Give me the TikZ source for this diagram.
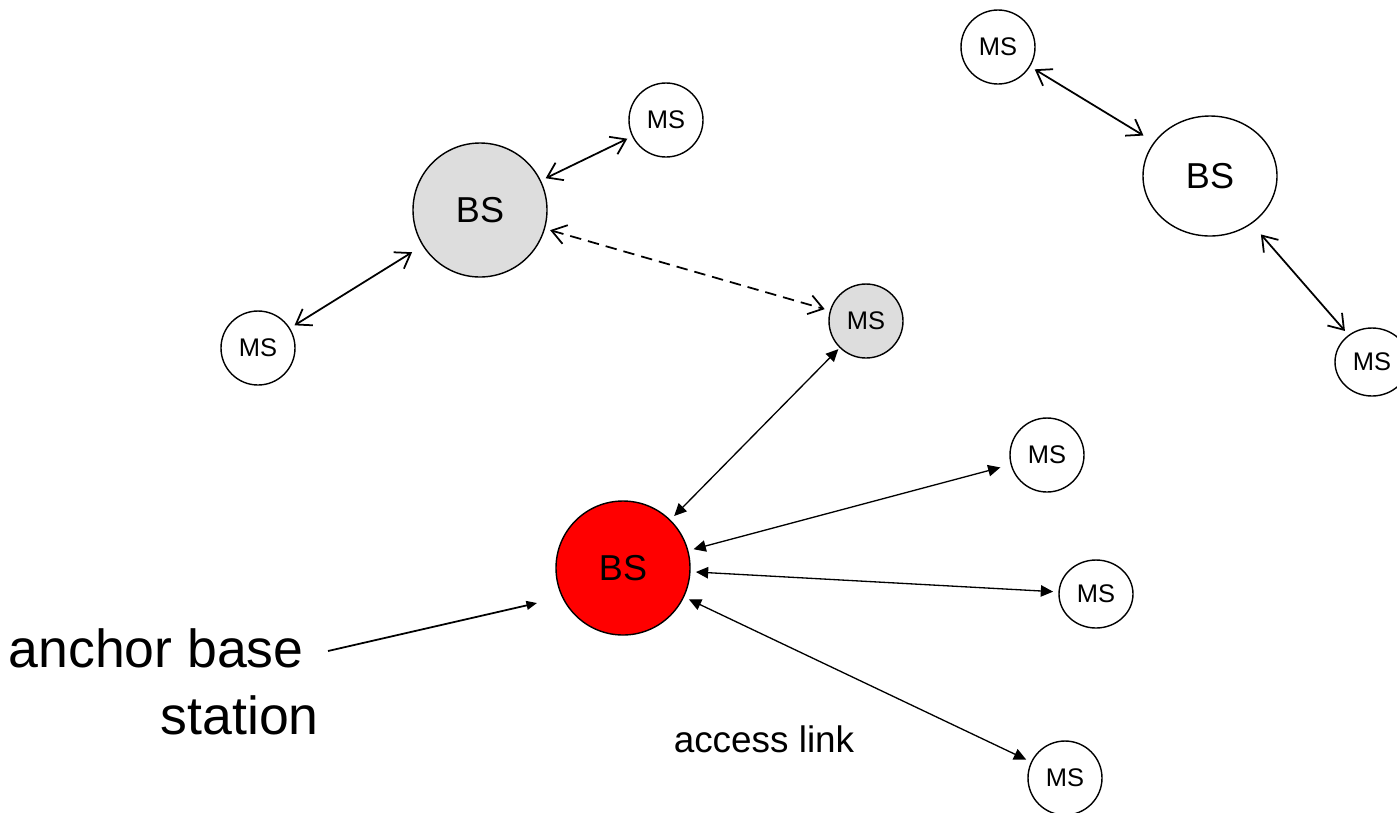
\documentclass[tikz,border=0pt]{standalone}
\usepackage{fontspec}
\setmainfont{Liberation Sans}
\usepackage{tikz}
\usetikzlibrary{positioning}
\usetikzlibrary{shapes,arrows.meta}
\definecolor{stationgray}{RGB}{221,221,221}
\tikzset{
	bs/.style={
		circle,
		draw,
		line width=.8pt,
		minimum size=2.68cm,
		inner sep=0pt,
		font=\fontsize{20.5}{24}\selectfont
	},
	ms/.style={
		circle,
		draw,
		line width=.8pt,
		minimum size=1.48cm,
		inner sep=0pt,
		font=\fontsize{14.5}{17}\selectfont
	},
	oldlink/.style={
		{Straight Barb[length=8pt,width=11pt]}-{Straight Barb[length=8pt,width=11pt]},
		line width=1pt,
		shorten <=3pt,
		shorten >=3pt
	},
	accesslink/.style={
		{Triangle[length=7pt,width=6.5pt]}-{Triangle[length=7pt,width=6.5pt]},
		line width=.75pt,
		shorten <=3pt,
		shorten >=3pt
	}
}

\begin{document}
\begin{tikzpicture}
	\useasboundingbox (0,0) rectangle (27.94,-16.24);
	\node[bs, fill=stationgray] (BSold) at (9.6,-4.2) {BS};
	\node[ms] (MSoldA) at (13.32,-2.4) {MS};
	\node[ms] (MSoldB) at (5.16,-6.96) {MS};
	\node[ms, fill=stationgray] (MSho) at (17.32,-6.42) {MS};
	\node[bs, ellipse, minimum width=2.68cm, minimum height=2.4cm] (BSfar) at (24.2,-3.52) {BS};
	\node[ms] (MSfarA) at (19.96,-0.94) {MS};
	\node[ms, ellipse, minimum width=1.48cm, minimum height=1.36cm] (MSfarB) at (27.44,-7.24) {MS};
	\node[bs, fill=red] (BSanchor) at (12.46,-11.36) {BS};
	\node[ms] (MSa) at (20.94,-9.1) {MS};
	\node[ms, ellipse, minimum width=1.48cm, minimum height=1.36cm] (MSb) at (21.92,-11.88) {MS};
	\node[ms] (MSc) at (21.3,-15.56) {MS};
	
	\node[anchor=south east, align=right, inner sep=0pt, font=\fontsize{30.5}{38}\selectfont] (AnchorLabel) at (6.38,-14.7) {anchor base\hspace*{.28em}\\station};
	\node[anchor=base, inner sep=0pt, font=\fontsize{21}{25}\selectfont] (AccessLabel) at (15.28,-15.04) {access link};
	\coordinate (AnchorTail) at (6.56,-13.02);
	\coordinate (AnchorTip) at (10.74,-12.06);
	
	\draw[oldlink] (BSold) -- (MSoldA);
	\draw[oldlink, shorten <=7pt] (BSold) -- (MSoldB);
	\draw[oldlink, dash pattern=on 6.5pt off 4pt] (BSold) -- (MSho);
	\draw[oldlink, shorten <=7pt] (BSfar) -- (MSfarA);
	\draw[oldlink, shorten <=8pt] (BSfar) -- (MSfarB);
	\draw[accesslink, shorten >=1pt] (BSanchor) -- (MSho);
	\draw[accesslink, shorten >=6pt] (BSanchor) -- (MSa);
	\draw[accesslink] (BSanchor) -- (MSb);
	\draw[accesslink] (BSanchor) -- (MSc);
	\draw[-{Triangle[length=6pt,width=5pt]}, line width=1pt] (AnchorTail) -- (AnchorTip);
\end{tikzpicture}
\end{document}
